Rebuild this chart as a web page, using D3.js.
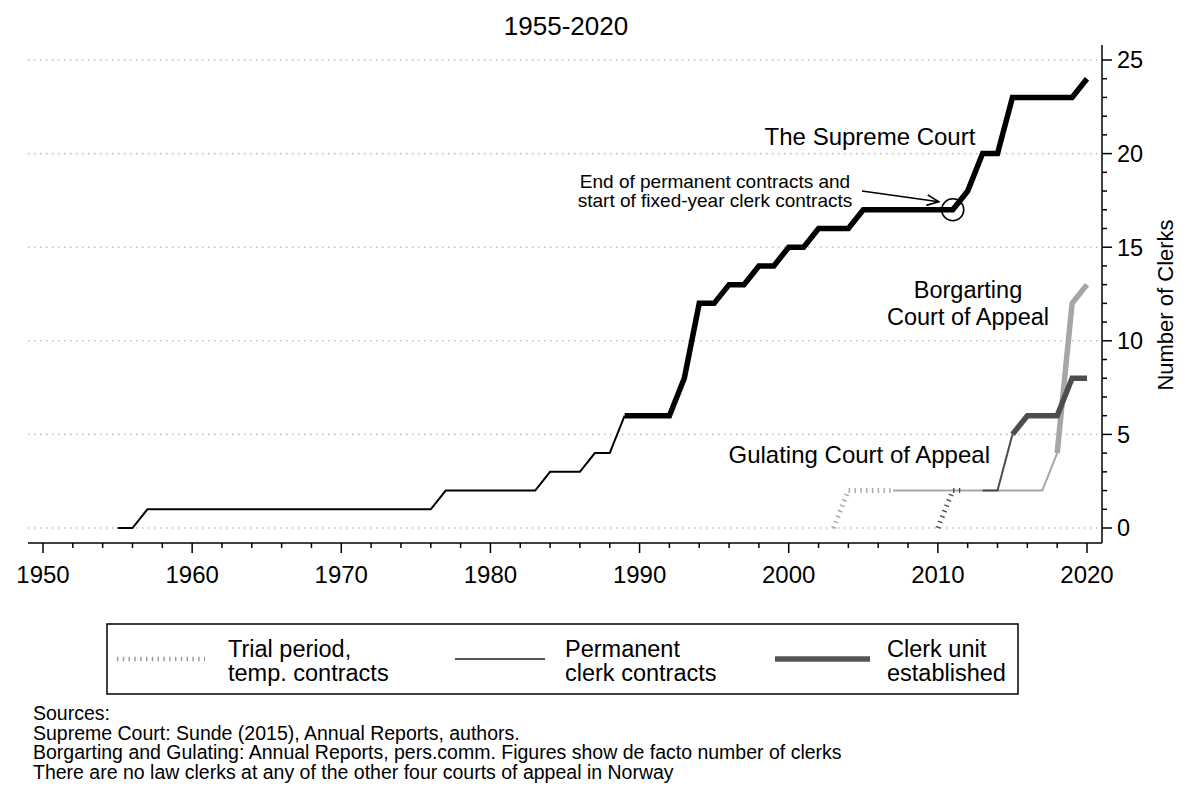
<!DOCTYPE html>
<html><head><meta charset="utf-8">
<script src="https://cdn.jsdelivr.net/npm/d3@7"></script>
<style>
body{margin:0;background:#fff}
svg{display:block}
text{font-family:"Liberation Sans",Arial,Helvetica,sans-serif;fill:#000}
</style>
</head><body>
<svg id="chart" width="1200" height="801"></svg>
<script>
// ---------------- data ----------------
const title = "1955-2020";
const xTickLabels = [1950,1960,1970,1980,1990,2000,2010,2020];
const yTickLabels = [0,5,10,15,20,25];

// Supreme Court
const supremePermYears  = [1955,1956,1957,1976,1977,1983,1984,1986,1987,1988,1989];
const supremePermValues = [0,0,1,1,2,2,3,3,4,4,6];
const supremeUnitYears  = [1989,1992,1993,1994,1995,1996,1997,1998,1999,2000,2001,2002,2004,2005,2011,2012,2013,2014,2015,2019,2020];
const supremeUnitValues = [6,6,8,12,12,13,13,14,14,15,15,16,16,17,17,18,20,20,23,23,24];

// Borgarting Court of Appeal
const borgTrialYears  = [2003,2004,2007];
const borgTrialValues = [0,2,2];
const borgPermYears   = [2007,2017,2018];
const borgPermValues  = [2,2,4];
const borgUnitYears   = [2018,2019,2020];
const borgUnitValues  = [4,12,13];

// Gulating Court of Appeal
const gulaTrialYears  = [2010,2011,2011.5];
const gulaTrialValues = [0,2,2];
const gulaPermYears   = [2013,2014,2015];
const gulaPermValues  = [2,2,5];
const gulaUnitYears   = [2015,2016,2018,2019,2020];
const gulaUnitValues  = [5,6,6,8,8];

const legendLabels = [
  ["Trial period,","temp. contracts"],
  ["Permanent","clerk contracts"],
  ["Clerk unit","established"]
];
const sourceLines = [
  "Sources:",
  "Supreme Court: Sunde (2015), Annual Reports, authors.",
  "Borgarting and Gulating: Annual Reports, pers.comm. Figures show de facto number of clerks",
  "There are no law clerks at any of the other four courts of appeal in Norway"
];

// ---------------- styles ----------------
const styles = {
  trial: {width:5, dash:"1.4,4.4"},
  perm:  {width:2, dash:null},
  unit:  {width:5.5, dash:null}
};
const colors = {supreme:"#000000", borg:"#a6a6a6", gula:"#4d4d4d"};

const zip = (a,b)=>a.map((v,i)=>[v,b[i]]);
const series = [
  {court:"borg", kind:"trial", pts:zip(borgTrialYears,borgTrialValues)},
  {court:"borg", kind:"perm",  pts:zip(borgPermYears,borgPermValues)},
  {court:"borg", kind:"unit",  pts:zip(borgUnitYears,borgUnitValues)},
  {court:"gula", kind:"trial", pts:zip(gulaTrialYears,gulaTrialValues)},
  {court:"gula", kind:"perm",  pts:zip(gulaPermYears,gulaPermValues)},
  {court:"gula", kind:"unit",  pts:zip(gulaUnitYears,gulaUnitValues)},
  {court:"supreme", kind:"perm", pts:zip(supremePermYears,supremePermValues)},
  {court:"supreme", kind:"unit", pts:zip(supremeUnitYears,supremeUnitValues)}
];

// ---------------- chart ----------------
const svg = d3.select("#chart");
const x = d3.scaleLinear().domain([1950,2020]).range([43,1087]);
const y = d3.scaleLinear().domain([0,25]).range([528,60]);
const axisX0 = 28, axisX1 = 1102, axisY = 543, axisTop = 45;

// title
svg.append("text").attr("x",566).attr("y",35).attr("text-anchor","middle")
  .style("font-size","26px").text(title);

// gridlines
svg.append("g").selectAll("line").data(yTickLabels).join("line")
  .attr("x1",axisX0).attr("x2",axisX1-3)
  .attr("y1",d=>y(d)).attr("y2",d=>y(d))
  .attr("stroke","#bdbdbd").attr("stroke-width",1.6).attr("stroke-dasharray","1.4,4.6");

// x axis
const gx = svg.append("g").attr("transform",`translate(0,${axisY})`);
gx.append("line").attr("x1",axisX0).attr("x2",axisX1).attr("stroke","#000").attr("stroke-width",1.5);
gx.selectAll("line.minor").data(d3.range(1950,2021,2)).join("line").attr("class","minor")
  .attr("x1",d=>x(d)).attr("x2",d=>x(d)).attr("y1",0)
  .attr("y2",d=>d%10===0?10:5).attr("stroke","#000").attr("stroke-width",1.5);
gx.selectAll("text").data(xTickLabels).join("text")
  .attr("x",d=>x(d)).attr("y",40).attr("text-anchor","middle")
  .style("font-size","24px").text(d=>d);

// y axis (right)
const gy = svg.append("g").attr("transform",`translate(${axisX1},0)`);
gy.append("line").attr("y1",axisTop).attr("y2",axisY).attr("stroke","#000").attr("stroke-width",1.5);
gy.selectAll("line.minor").data(d3.range(0,26,1)).join("line").attr("class","minor")
  .attr("y1",d=>y(d)).attr("y2",d=>y(d)).attr("x1",0)
  .attr("x2",d=>d%5===0?10:5).attr("stroke","#000").attr("stroke-width",1.5);
gy.selectAll("text").data(yTickLabels).join("text")
  .attr("x",15).attr("y",d=>y(d)).attr("dy","0.36em")
  .style("font-size","23.5px").text(d=>d);
svg.append("text").attr("transform","translate(1173,305) rotate(-90)")
  .attr("text-anchor","middle").style("font-size","22px").text("Number of Clerks");

// lines
const line = d3.line().x(d=>x(d[0])).y(d=>y(d[1]));
svg.append("g").selectAll("path").data(series).join("path")
  .attr("d",d=>line(d.pts))
  .attr("fill","none")
  .attr("stroke",d=>colors[d.court])
  .attr("stroke-width",d=>styles[d.kind].width)
  .attr("stroke-dasharray",d=>styles[d.kind].dash)
  .attr("stroke-linejoin","miter")
  .attr("stroke-linecap","butt");

// annotations
function multiText(xp, yp, lines, size, anchor, lh){
  const t = svg.append("text").attr("x",xp).attr("y",yp).attr("text-anchor",anchor)
    .style("font-size",size);
  lines.forEach((s,i)=>t.append("tspan").attr("x",xp).attr("dy",i===0?0:lh).text(s));
  return t;
}
svg.append("text").attr("x",870).attr("y",145).attr("text-anchor","middle")
  .style("font-size","24px").text("The Supreme Court");
svg.append("text").attr("x",968).attr("y",298).attr("text-anchor","middle")
  .style("font-size","23.5px").text("Borgarting");
svg.append("text").attr("x",968).attr("y",325).attr("text-anchor","middle")
  .style("font-size","23.5px").text("Court of Appeal");
svg.append("text").attr("x",990).attr("y",463).attr("text-anchor","end")
  .style("font-size","24px").text("Gulating Court of Appeal");
multiText(715, 188, ["End of permanent contracts and","start of fixed-year clerk contracts"], "19px", "middle", 19);

// circle at 2011 transition
const circleYear = 2011, circleValue = 17;
svg.append("circle").attr("cx",x(circleYear)).attr("cy",y(circleValue)).attr("r",11)
  .attr("fill","none").attr("stroke","#000").attr("stroke-width",1.6);
// arrow
const a0 = [862,191], a1 = [x(circleYear)-14, y(circleValue)-8];
svg.append("line").attr("x1",a0[0]).attr("y1",a0[1]).attr("x2",a1[0]).attr("y2",a1[1])
  .attr("stroke","#000").attr("stroke-width",1.6);
const ang = Math.atan2(a1[1]-a0[1], a1[0]-a0[0]);
const hl = 13, ha = 0.42;
const hp = `M${a1[0]-hl*Math.cos(ang-ha)},${a1[1]-hl*Math.sin(ang-ha)} L${a1[0]},${a1[1]} L${a1[0]-hl*Math.cos(ang+ha)},${a1[1]-hl*Math.sin(ang+ha)}`;
svg.append("path").attr("d",hp).attr("fill","none").attr("stroke","#000").attr("stroke-width",1.6);

// legend
const lg = svg.append("g");
lg.append("rect").attr("x",107).attr("y",624).attr("width",911).attr("height",70)
  .attr("fill","#fff").attr("stroke","#000").attr("stroke-width",1.5);
const legendItems = [
  {kind:"trial", color:"#999999", x0:117, x1:205, tx:228},
  {kind:"perm",  color:"#555555", x0:455, x1:545, tx:565},
  {kind:"unit",  color:"#555555", x0:775, x1:870, tx:887}
];
legendItems.forEach((it,i)=>{
  lg.append("line").attr("x1",it.x0).attr("x2",it.x1).attr("y1",659).attr("y2",659)
    .attr("stroke",it.color).attr("stroke-width",it.kind==="trial"?4.5:styles[it.kind].width)
    .attr("stroke-dasharray",styles[it.kind].dash);
  const t = lg.append("text").attr("x",it.tx).attr("y",657).style("font-size","23.5px");
  t.append("tspan").attr("x",it.tx).attr("dy",0).text(legendLabels[i][0]);
  t.append("tspan").attr("x",it.tx).attr("dy",24).text(legendLabels[i][1]);
});

// sources
svg.append("g").selectAll("text").data(sourceLines).join("text")
  .attr("x",33).attr("y",(d,i)=>720+i*19.7).style("font-size","19.5px").text(d=>d);
</script>
</body></html>
